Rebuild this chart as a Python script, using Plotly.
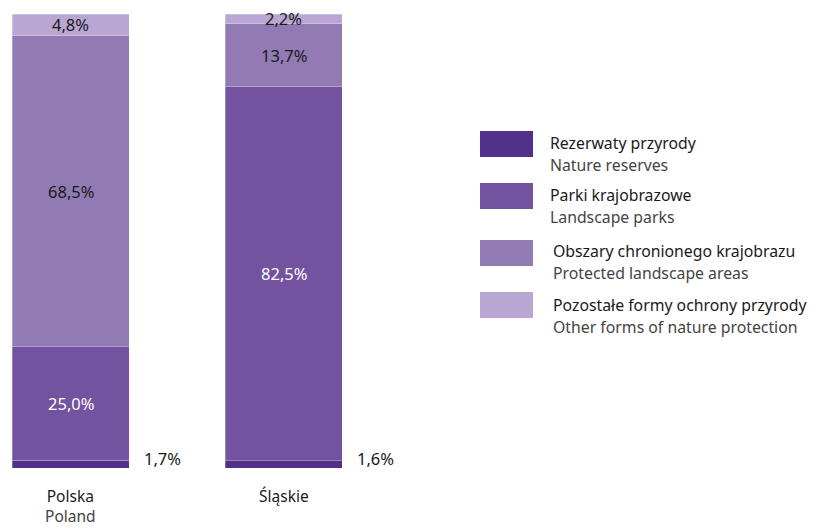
import plotly.graph_objects as go

regions = ["Polska", "Śląskie"]
region_en = ["Poland", ""]

series_pl = ["Rezerwaty przyrody", "Parki krajobrazowe",
             "Obszary chronionego krajobrazu", "Pozostałe formy ochrony przyrody"]
series_en = ["Nature reserves", "Landscape parks",
             "Protected landscape areas", "Other forms of nature protection"]

rezerwaty = [1.7, 1.6]
parki = [25.0, 82.5]
obszary = [68.5, 13.7]
pozostale = [4.8, 2.2]

colors = ["#523089", "#7352a0", "#927bb5", "#b9a6d2"]
label_colors = ["#1a1a1a", "white", "#1a1a1a", "#1a1a1a"]

# the page body adds an 8px margin, so the figure is a little smaller
OFF = 8
W, H = 818 - OFF, 529 - OFF
TOP, BOTTOM = 14, 468  # plot area in page pixels
FONT = "Noto Sans"
FS = 16.5
FS_LEG = 15.8
FS_CAT = 15.5


def px_x(px):
    return (px - OFF) / W


def px_y(py):
    return (BOTTOM - py) / (BOTTOM - TOP)


values = [rezerwaty, parki, obszary, pozostale]
xs = [0, 1]
unit = 213  # pixels between bar centres
x0 = 70.5 - OFF

fig = go.Figure()
for i, vals in enumerate(values):
    fig.add_trace(go.Bar(
        x=xs, y=vals, name=series_pl[i], width=117 / unit,
        marker=dict(color=colors[i], line=dict(color="rgba(255,255,255,0.35)", width=0.8)),
        showlegend=False, hoverinfo="skip",
    ))

# value labels
annotations = []
for j in range(len(xs)):
    base = 0
    for i, vals in enumerate(values):
        v = vals[j]
        txt = f"{v:.1f}%".replace(".", ",")
        if i == 0:
            annotations.append(dict(x=xs[j] + 71 / unit, y=base + v / 2, text=txt,
                                    xanchor="left", yanchor="middle", showarrow=False, yshift=6,
                                    font=dict(color="#1a1a1a", size=FS, family=FONT)))
        else:
            annotations.append(dict(x=xs[j], y=base + v / 2, text=txt, showarrow=False,
                                    xanchor="center", yanchor="middle",
                                    font=dict(color=label_colors[i], size=FS, family=FONT)))
        base += v

# category labels (Polish name, English name below in grey)
for j, name in enumerate(regions):
    if region_en[j]:
        txt = f"{name}<br><span style='color:#444444'>{region_en[j]}</span>"
        y = 506
    else:
        txt = name
        y = 496
    annotations.append(dict(x=xs[j], y=px_y(y), yref="paper", text=txt, showarrow=False,
                            xanchor="center", yanchor="middle", borderpad=0,
                            font=dict(color="#1a1a1a", size=FS_CAT, family=FONT)))

# legend built by hand
shapes = []
sw_top = [131, 183, 240, 292]
text_y = [143, 195, 251, 305]
text_x = [548, 548, 551, 551]
for i in range(4):
    shapes.append(dict(type="rect", xref="paper", yref="paper",
                       x0=px_x(480), x1=px_x(533), y0=px_y(sw_top[i] + 26), y1=px_y(sw_top[i]),
                       fillcolor=colors[i], line=dict(width=0)))
    annotations.append(dict(xref="paper", yref="paper", x=px_x(text_x[i]), y=px_y(text_y[i]),
                            text=series_pl[i], xanchor="left", yanchor="middle", showarrow=False,
                            font=dict(color="#1a1a1a", size=FS_LEG, family=FONT)))
    annotations.append(dict(xref="paper", yref="paper", x=px_x(text_x[i]), y=px_y(text_y[i] + 22),
                            text=series_en[i], xanchor="left", yanchor="middle", showarrow=False,
                            font=dict(color="#444444", size=FS_LEG, family=FONT)))

fig.update_layout(
    barmode="stack",
    width=W, height=H,
    margin=dict(l=0, r=0, t=TOP - OFF, b=H - (BOTTOM - OFF)),
    plot_bgcolor="white", paper_bgcolor="white",
    xaxis=dict(range=[-x0 / unit, (W - x0) / unit], visible=False),
    yaxis=dict(range=[0, 100], visible=False),
    annotations=annotations,
    shapes=shapes,
    font=dict(family=FONT),
)

fig.write_html("out.html")
